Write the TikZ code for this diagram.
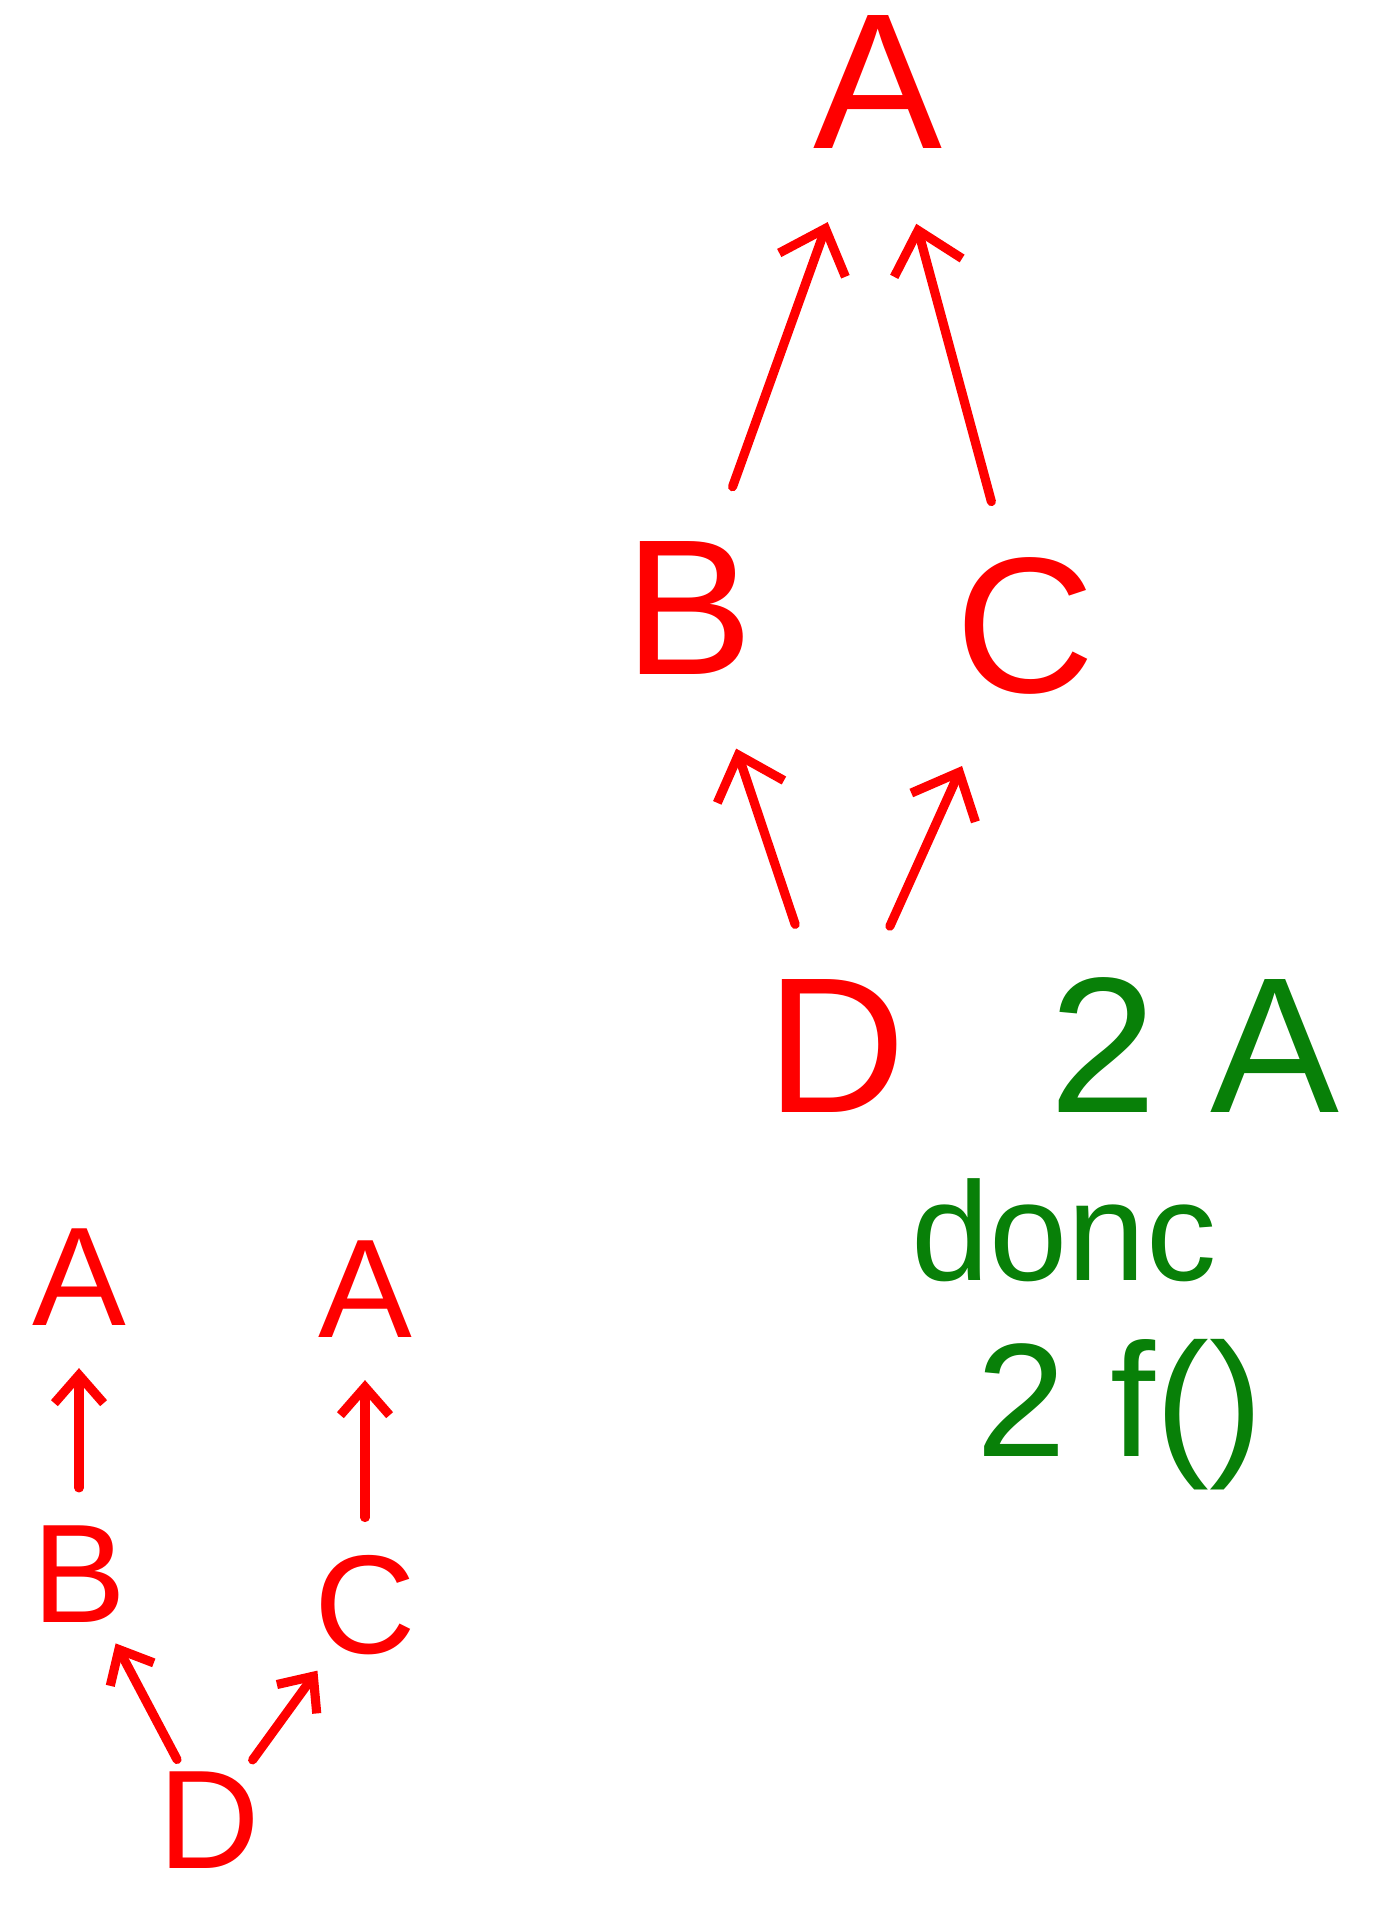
\documentclass[tikz,border=0pt]{standalone}
\usepackage{fontspec}
\setmainfont{Liberation Sans}
\usetikzlibrary{arrows.meta}
\definecolor{inkred}{RGB}{255,0,0}
\definecolor{inkgreen}{RGB}{8,128,8}

\begin{document}
\begin{tikzpicture}[
    letter/.style={text=inkred, font=\fontsize{55}{60}\selectfont, inner sep=2pt},
    smallletter/.style={text=inkred, font=\fontsize{40}{44}\selectfont, inner sep=2pt},
    note/.style={text=inkgreen, inner sep=1pt},
    edge/.style={-{Straight Barb[length=11pt,width=20pt]}, draw=inkred, line width=2.6pt, line cap=round, shorten <=0.5cm, shorten >=0.7cm},
    smalledge/.style={edge, -{Straight Barb[length=8pt,width=14pt]}, shorten <=0.3cm, shorten >=0.35cm}
]
\useasboundingbox (0,0) rectangle (13.86,-19.07);

% Diamond
\node[letter] (A) at (8.78,-0.82) {A};
\node[letter] (B) at (6.89,-6.08) {B};
\node[letter] (C) at (10.25,-6.26) {C};
\node[letter] (D) at (8.36,-10.46) {D};

\draw[edge] (B) -- (A);
\draw[edge] (C) -- (A);
\draw[edge] (D) -- (B);
\draw[edge] (D) -- (C);

% Remarks
\node[note, font=\fontsize{55}{60}\selectfont] (twoA) at (11.95,-10.45) {2 A};
\node[note, font=\fontsize{40}{44}\selectfont] (donc) at (10.64,-12.3) {donc};
\node[note, font=\fontsize{46}{50}\selectfont] (twof) at (11.2,-14.15) {2 f()};

% Two chains
\node[smallletter] (a1) at (0.79,-12.77) {A};
\node[smallletter] (b1) at (0.79,-15.74) {B};
\node[smallletter] (a2) at (3.65,-12.89) {A};
\node[smallletter] (c2) at (3.65,-16.05) {C};
\node[smallletter] (d1) at (2.09,-18.2) {D};

\draw[smalledge] (b1) -- (a1);
\draw[smalledge] (c2) -- (a2);
\draw[smalledge, shorten <=0.05cm, shorten >=0.15cm] (d1) -- (b1);
\draw[smalledge, shorten <=0.05cm, shorten >=0.1cm] (d1) -- (c2);

\end{tikzpicture}
\end{document}
